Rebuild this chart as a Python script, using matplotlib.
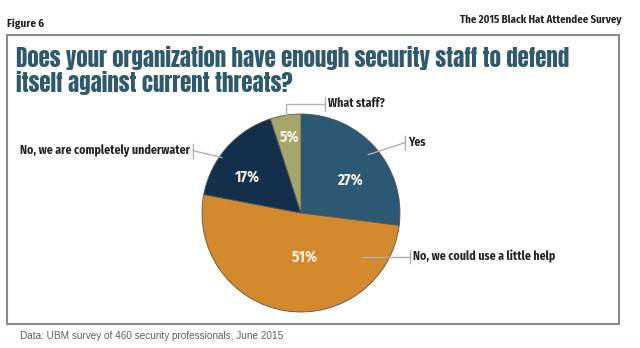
import matplotlib.pyplot as plt
from matplotlib.patches import Rectangle

# datos del gráfico
categorias = ['Yes', 'No, we could use a little help', 'No, we are completely underwater', 'What staff?']
porcentajes = [27, 51, 17, 5]
etiquetas_pct = ['27%', '51%', '17%', '5%']
colores = ['#2d5874', '#d48a2c', '#132f4c', '#a6a66c']

titulo = ['Does your organization have enough security staff to defend',
          'itself against current threats?']
fuente = 'Data: UBM survey of 460 security professionals, June 2015'

# fuentes angostas (la lista sirve de respaldo si alguna no existe)
angosta = ['Fira Sans Condensed', 'Saira SemiCondensed', 'DejaVu Sans']
impacto = ['Anton', 'Oswald', 'DejaVu Sans']

fig = plt.figure(figsize=(6.4, 3.48), dpi=100)
fig.patch.set_facecolor('white')

W, H = 640, 348

# marco
fig.patches.append(Rectangle((7 / W, 1 - 324 / H), 612 / W, 289 / H,
                             transform=fig.transFigure, fill=False,
                             edgecolor='#8a8a8a', linewidth=1.5))

fig.text(7 / W, 1 - 24 / H, 'Figure 6', fontsize=8, fontweight='bold',
         family=angosta, color='#222222', va='center', ha='left')
fig.text(622 / W, 1 - 20 / H, 'The 2015 Black Hat Attendee Survey', fontsize=7.8,
         fontweight='bold', family=angosta, color='#222222', va='center', ha='right')
# título en dos líneas, cada una en su línea base
for linea, base in zip(titulo, [67, 92]):
    fig.text(16 / W, 1 - base / H, linea, fontsize=16.5, family=impacto, color='#2f5a6e',
             va='baseline', ha='left')
fig.text(20 / W, 1 - 336 / H, fuente, fontsize=7.2, family=['Liberation Sans', 'DejaVu Sans'],
         color='#606060', va='center', ha='left')

# pastel
ax = fig.add_axes([202 / W, 36 / H, 198 / W, 198 / H])
ax.pie(porcentajes, colors=colores, startangle=90, counterclock=False,
       radius=1, wedgeprops=dict(linewidth=0.6, edgecolor='#555555'))
ax.set_xlim(-1, 1)
ax.set_ylim(-1, 1)
ax.set_aspect('equal')
ax.axis('off')

fp = dict(family=angosta, fontweight='bold')

# porcentajes dentro de las rebanadas
pos_pct = [(0.49, 0.33), (0.04, -0.44), (-0.54, 0.36), (-0.11, 0.77)]
for (x, y), t in zip(pos_pct, etiquetas_pct):
    ax.text(x, y, t, ha='center', va='center', fontsize=11, color='#f4f2e6', **fp)

# líneas guía y etiquetas
gris = '#b0b0b0'
lineas = [
    ([0.68, 1.05], [0.59, 0.71]),
    ([0.62, 1.10], [-0.44, -0.44]),
    ([-0.80, -1.09], [0.56, 0.63]),
    ([-0.15, -0.15, 0.24], [0.99, 1.10, 1.10]),
]
for xs, ys in lineas:
    ax.plot(xs, ys, color=gris, lw=1, clip_on=False)

ticks = [(1.05, 0.71), (1.10, -0.44), (-1.09, 0.63), (0.24, 1.10)]
for x, y in ticks:
    ax.plot([x, x], [y - 0.07, y + 0.07], color=gris, lw=1, clip_on=False)

ax.text(1.08, 0.71, categorias[0], ha='left', va='center', fontsize=8.5, color='#222222', **fp)
ax.text(1.13, -0.44, categorias[1], ha='left', va='center', fontsize=8.5, color='#222222', **fp)
ax.text(-1.12, 0.63, categorias[2], ha='right', va='center', fontsize=8.5, color='#222222', **fp)
ax.text(0.27, 1.11, categorias[3], ha='left', va='center', fontsize=8.5, color='#222222', **fp)

fig.savefig('out.png', dpi=100)
